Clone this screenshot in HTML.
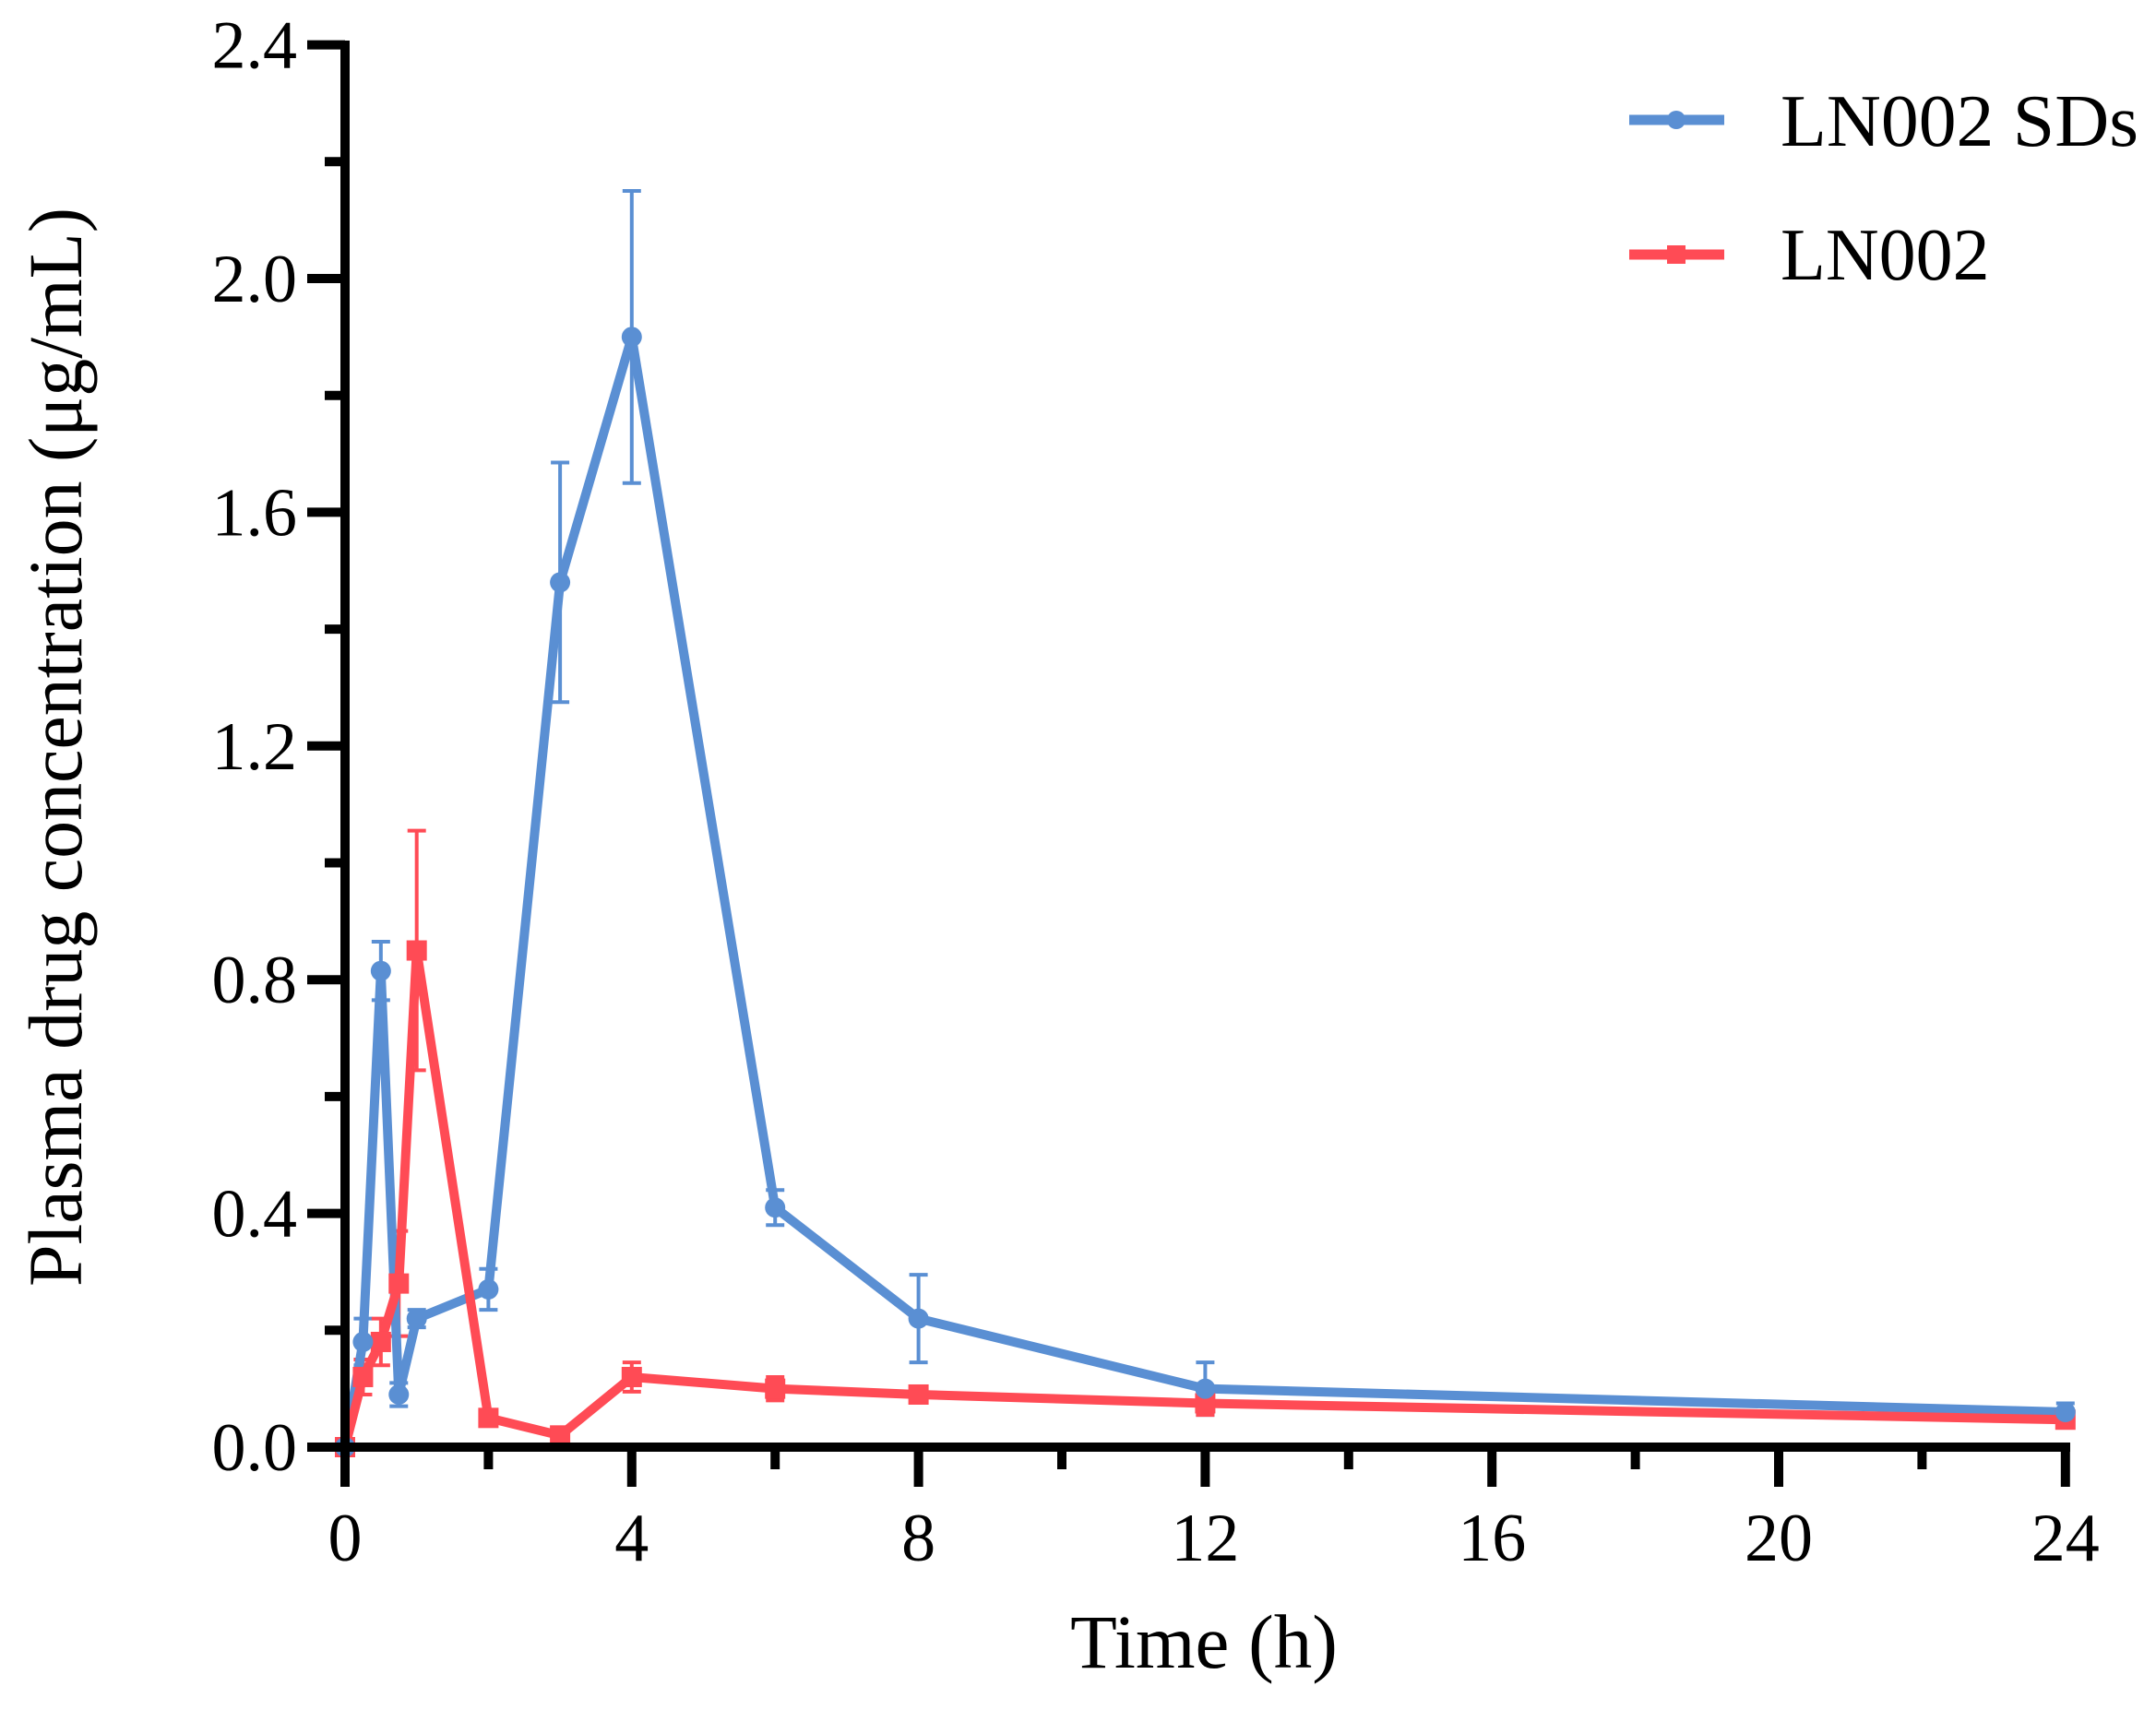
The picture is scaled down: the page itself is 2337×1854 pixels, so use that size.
<!DOCTYPE html>
<html><head><meta charset="utf-8"><style>
html,body{margin:0;padding:0;background:#fff}
svg{display:block}
text{font-family:"Liberation Serif",serif;fill:#000}
</style></head><body>
<svg id="s" width="2337" height="1854" viewBox="0 0 2337 1854" xmlns="http://www.w3.org/2000/svg"></svg>
<script>
const s=document.getElementById('s');
const X=t=>374+t*77.7, Y=v=>1569-v*633.5;
let h='';
const B='#5A8FD3', R='#FF4B55';
const blue=[[0,0,0],[0.25,0.18,0.04],[0.5,0.815,0.05],[0.75,0.09,0.02],[1,0.22,0.015],[2,0.27,0.035],[3,1.48,0.205],[4,1.9,0.25],[6,0.41,0.03],[8,0.22,0.075],[12,0.1,0.045],[24,0.06,0.015]];
const red=[[0,0,0],[0.25,0.12,0.03],[0.5,0.18,0.04],[0.75,0.28,0.09],[1,0.85,0.205],[2,0.05,0.01],[3,0.02,0.01],[4,0.12,0.025],[6,0.1,0.02],[8,0.09,0.01],[12,0.075,0.02],[24,0.047,0.01]];
function err(d,c){d.forEach(p=>{if(p[2]>0){const x=X(p[0]);h+=`<line x1="${x}" x2="${x}" y1="${Y(p[1]-p[2])}" y2="${Y(p[1]+p[2])}" stroke="${c}" stroke-width="4"/>`;
[p[1]-p[2],p[1]+p[2]].forEach(v=>h+=`<line x1="${x-10}" x2="${x+10}" y1="${Y(v)}" y2="${Y(v)}" stroke="${c}" stroke-width="4"/>`);}});}
err(blue,B);err(red,R);
h+=`<polyline fill="none" stroke="${B}" stroke-width="10" stroke-linejoin="miter" points="${blue.map(p=>X(p[0])+','+Y(p[1])).join(' ')}"/>`;
h+=`<polyline fill="none" stroke="${R}" stroke-width="10" stroke-linejoin="miter" points="${red.map(p=>X(p[0])+','+Y(p[1])).join(' ')}"/>`;
red.forEach(p=>h+=`<rect x="${X(p[0])-11}" y="${Y(p[1])-11}" width="22" height="22" fill="${R}"/>`);
blue.forEach(p=>h+=`<circle cx="${X(p[0])}" cy="${Y(p[1])}" r="11" fill="${B}"/>`);
// axes
h+=`<line x1="374" x2="374" y1="44" y2="1574" stroke="#000" stroke-width="10"/>`;
h+=`<line x1="369" x2="2244" y1="1569" y2="1569" stroke="#000" stroke-width="10"/>`;
for(let i=0;i<=12;i++){const v=i*0.2,y=Y(v),maj=i%2==0;
h+=`<line x1="${maj?333:352}" x2="374" y1="${y}" y2="${y}" stroke="#000" stroke-width="10"/>`;
if(maj)h+=`<text x="322" y="${y+25}" font-size="74" text-anchor="end">${v.toFixed(1)}</text>`;}
for(let t=0;t<=24;t+=2){const x=X(t),maj=t%4==0;
h+=`<line x1="${x}" x2="${x}" y1="1569" y2="${maj?1612:1593}" stroke="#000" stroke-width="10"/>`;
if(maj)h+=`<text x="${x}" y="1692" font-size="74" text-anchor="middle">${t}</text>`;}
h+=`<text x="1305" y="1808" font-size="83" text-anchor="middle">Time (h)</text>`;
h+=`<text transform="translate(88,810) rotate(-90)" font-size="83" text-anchor="middle" textLength="1170" lengthAdjust="spacingAndGlyphs">Plasma drug concentration (μg/mL)</text>`;
// legend
h+=`<line x1="1766" x2="1869" y1="130" y2="130" stroke="${B}" stroke-width="11"/><circle cx="1817" cy="130" r="10" fill="${B}"/>`;
h+=`<text x="1930" y="158" font-size="80" textLength="388" lengthAdjust="spacingAndGlyphs">LN002 SDs</text>`;
h+=`<line x1="1766" x2="1869" y1="276" y2="276" stroke="${R}" stroke-width="11"/><rect x="1807" y="266" width="20" height="20" fill="${R}"/>`;
h+=`<text x="1930" y="303" font-size="80">LN002</text>`;
s.innerHTML=h;
</script>
</body></html>
